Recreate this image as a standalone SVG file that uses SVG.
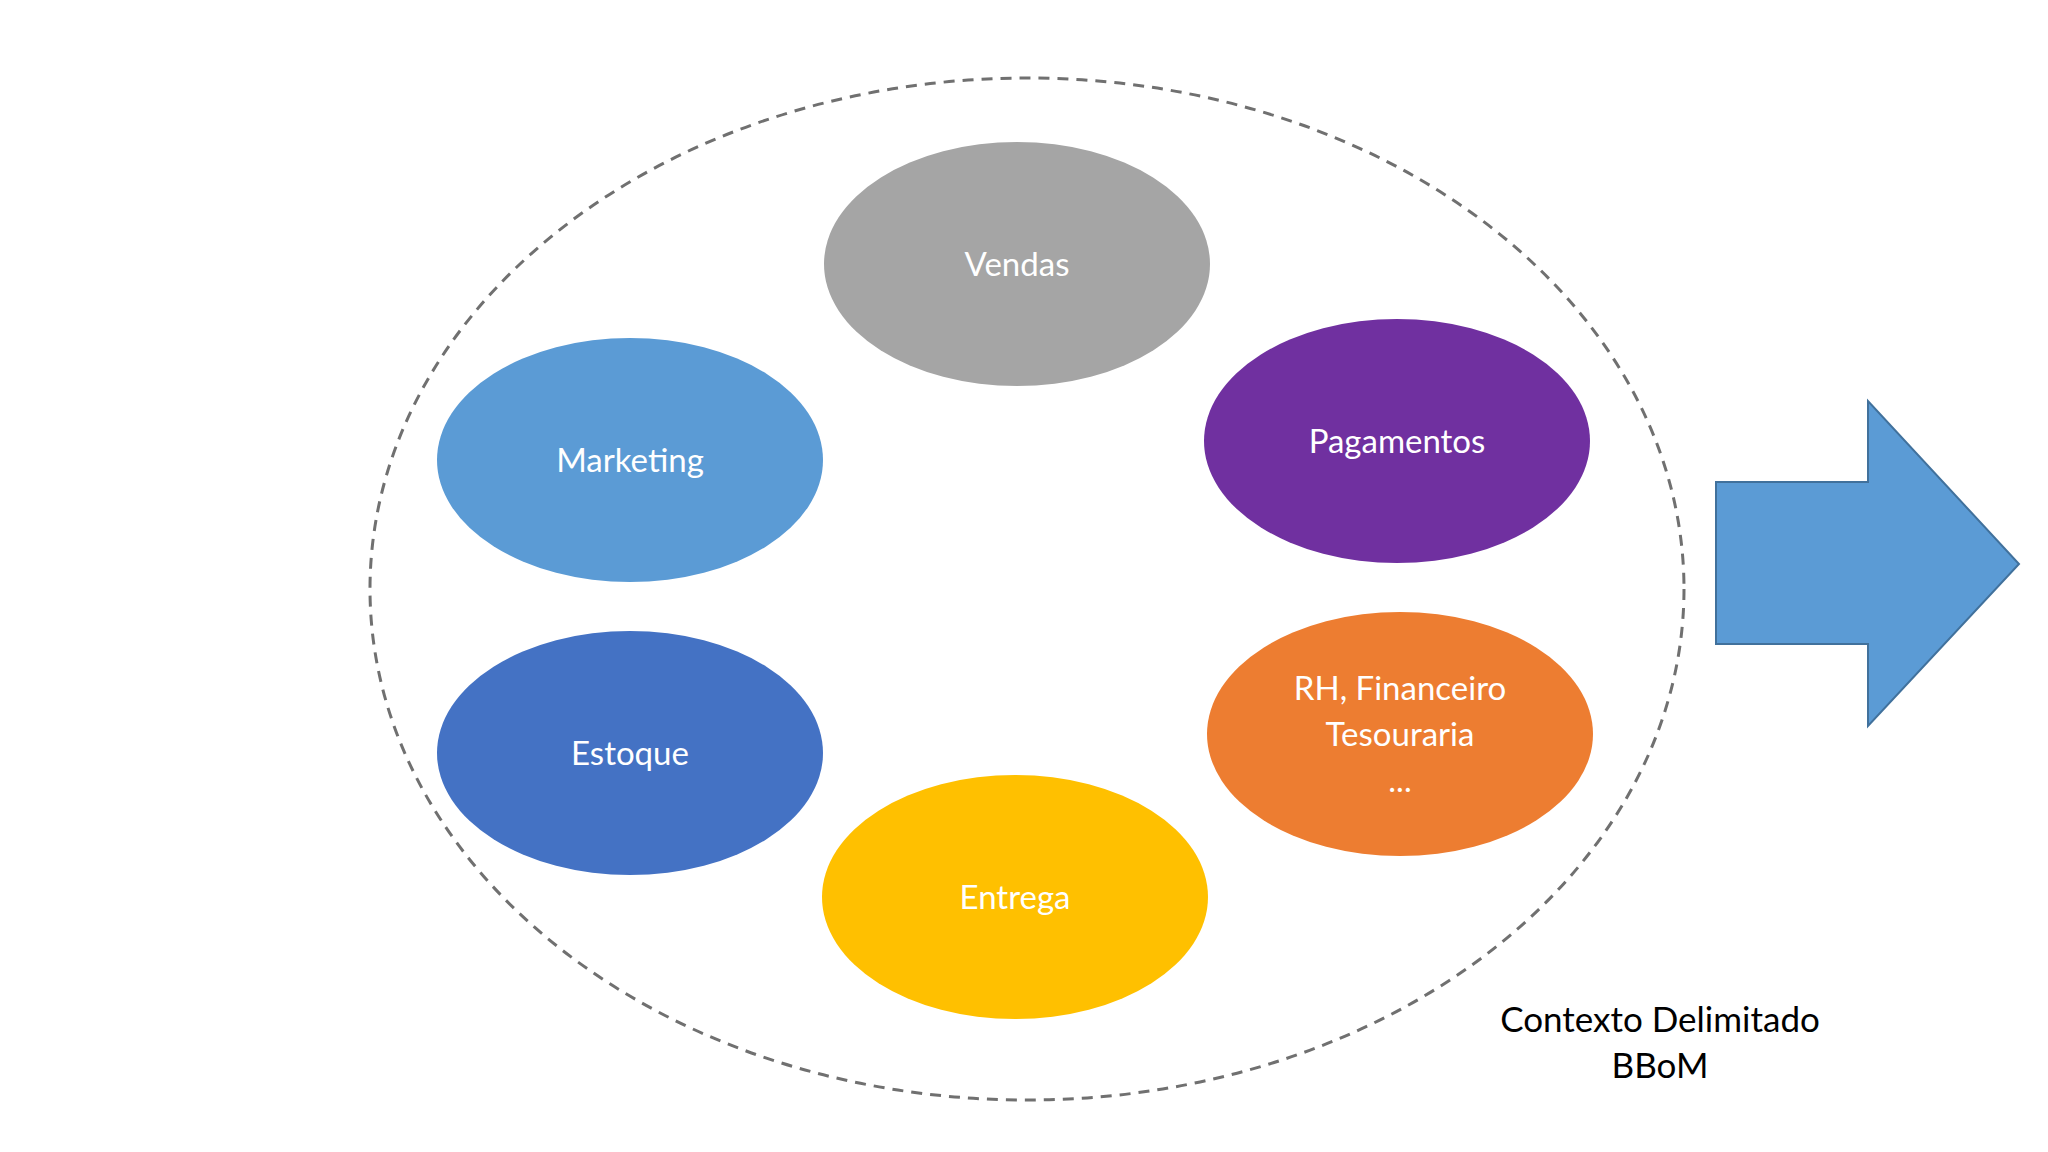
<svg xmlns="http://www.w3.org/2000/svg" width="2048" height="1152" viewBox="0 0 2048 1152">
<style>
.n{stroke:none}
.t{font-family:Lato,"Open Sans",sans-serif;font-size:33px;fill:#fff;text-anchor:middle}
.c{font-family:Lato,"Open Sans",sans-serif;font-size:35px;fill:#000;text-anchor:middle}
</style>
<rect width="2048" height="1152" fill="#fff"/>
<g id="boundary"><ellipse cx="1027" cy="589" rx="657" ry="511" fill="none" stroke="#707070" stroke-width="3" stroke-dasharray="11,8"/></g>
<g id="vendas"><ellipse class="n" cx="1017" cy="264" rx="193" ry="122" fill="#A5A5A5"/><text class="t" x="1017" y="276">Vendas</text></g>
<g id="marketing"><ellipse class="n" cx="630" cy="460" rx="193" ry="122" fill="#5B9BD5"/><text class="t" x="630" y="472">Marketing</text></g>
<g id="pagamentos"><ellipse class="n" cx="1397" cy="441" rx="193" ry="122" fill="#7030A0"/><text class="t" x="1397" y="453">Pagamentos</text></g>
<g id="estoque"><ellipse class="n" cx="630" cy="753" rx="193" ry="122" fill="#4472C4"/><text class="t" x="630" y="765">Estoque</text></g>
<g id="rh"><ellipse class="n" cx="1400" cy="734" rx="193" ry="122" fill="#ED7D31"/><text class="t" x="1400" y="700">RH, Financeiro</text><text class="t" x="1400" y="746">Tesouraria</text><text class="t" x="1400" y="792">...</text></g>
<g id="entrega"><ellipse class="n" cx="1015" cy="897" rx="193" ry="122" fill="#FFC000"/><text class="t" x="1015" y="909">Entrega</text></g>
<g id="arrow"><polygon points="1716,482 1868,482 1868,401 2019,564 1868,726 1868,644 1716,644" fill="#5B9BD5" stroke="#41719C" stroke-width="2"/></g>
<g id="label"><text class="c" x="1660" y="1032">Contexto Delimitado</text><text class="c" x="1660" y="1078">BBoM</text></g>
<g id="connectors"></g>
</svg>
